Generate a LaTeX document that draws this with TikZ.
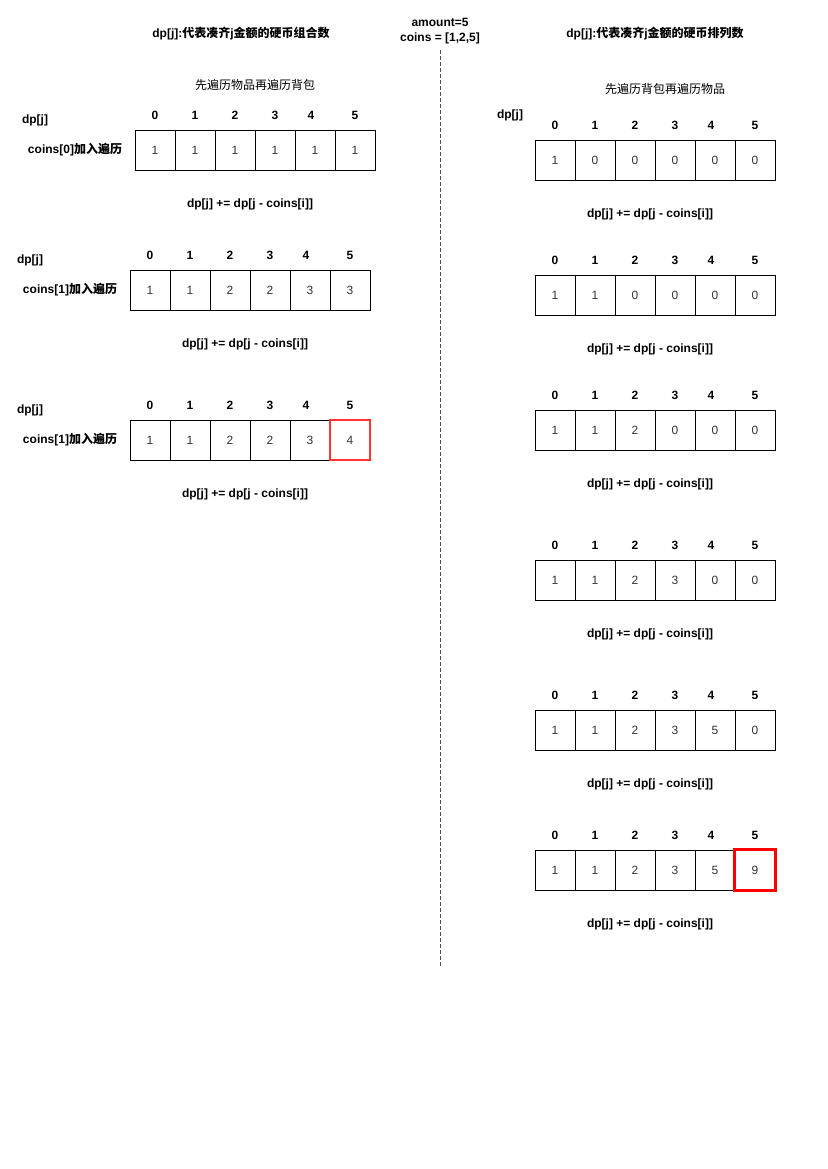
\documentclass[tikz,border=0pt]{standalone}
\usepackage{fontspec}
\setmainfont{Liberation Sans}
\newfontfamily\cjk{Noto Sans CJK SC}
\usetikzlibrary{positioning}
\tikzset{
	cell/.style={draw, minimum width=40pt, minimum height=40pt, inner sep=0pt, text=black!80, font=\fontsize{12}{14}\selectfont},
	idx/.style={inner sep=0pt, font=\fontsize{12}{14}\selectfont\bfseries},
	lbl/.style={inner sep=0pt, font=\fontsize{12}{14}\selectfont\bfseries},
	note/.style={inner sep=0pt, font=\fontsize{12}{14}\selectfont},
	divider/.style={draw=black!70, dash pattern=on 4pt off 2pt},
}

\begin{document}
\begin{tikzpicture}[x=1pt, y=-1pt]
	\useasboundingbox (0,0) rectangle (827,1169);

	\node[lbl] (titleA) at (241,34) {dp[j]:{\cjk 代表凑齐}j{\cjk 金额的硬币组合数}};
	\node[lbl] (titleB) at (655,34) {dp[j]:{\cjk 代表凑齐}j{\cjk 金额的硬币排列数}};
	\node[lbl] (amount) at (440,22) {amount=5};
	\node[lbl] (coins) at (440,38) {coins = [1,2,5]};
	\coordinate (divtop) at (440,50);
	\coordinate (divbot) at (440,967);
	\draw[divider] (divtop) -- (divbot);

	\node[note] (orderA) at (255,85) {\cjk 先遍历物品再遍历背包};
	\node[note] (orderB) at (665,89) {\cjk 先遍历背包再遍历物品};

	% left: items outside
	\node[lbl] (a1dp) at (35,120) {dp[j]};
	\node[lbl] (a1name) at (75,150) {coins[0]{\cjk 加入遍历}};
	\foreach \v [count=\i from 0] in {1,1,1,1,1,1}
		\node[cell] (a1c\i) at (155+40*\i,150) {\v};
	\node[lbl] (a1f) at (250,204) {dp[j] += dp[j - coins[i]]};

	\node[lbl] (a2dp) at (30,260) {dp[j]};
	\node[lbl] (a2name) at (70,290) {coins[1]{\cjk 加入遍历}};
	\foreach \v [count=\i from 0] in {1,1,2,2,3,3}
		\node[cell] (a2c\i) at (150+40*\i,290) {\v};
	\node[lbl] (a2f) at (245,344) {dp[j] += dp[j - coins[i]]};

	\node[lbl] (a3dp) at (30,410) {dp[j]};
	\node[lbl] (a3name) at (70,440) {coins[1]{\cjk 加入遍历}};
	\foreach \v [count=\i from 0] in {1,1,2,2,3,4}
		\node[cell] (a3c\i) at (150+40*\i,440) {\v};
	\draw[draw=red!80, line width=2pt] (a3c5.south west) rectangle (a3c5.north east);
	\node[lbl] (a3f) at (245,494) {dp[j] += dp[j - coins[i]]};

	% right: bag outside
	\node[lbl] (b1dp) at (510,115) {dp[j]};
	\foreach \v [count=\i from 0] in {1,0,0,0,0,0}
		\node[cell] (b1c\i) at (555+40*\i,160) {\v};
	\node[lbl] (b1f) at (650,214) {dp[j] += dp[j - coins[i]]};

	\foreach \v [count=\i from 0] in {1,1,0,0,0,0}
		\node[cell] (b2c\i) at (555+40*\i,295) {\v};
	\node[lbl] (b2f) at (650,349) {dp[j] += dp[j - coins[i]]};

	\foreach \v [count=\i from 0] in {1,1,2,0,0,0}
		\node[cell] (b3c\i) at (555+40*\i,430) {\v};
	\node[lbl] (b3f) at (650,484) {dp[j] += dp[j - coins[i]]};

	\foreach \v [count=\i from 0] in {1,1,2,3,0,0}
		\node[cell] (b4c\i) at (555+40*\i,580) {\v};
	\node[lbl] (b4f) at (650,634) {dp[j] += dp[j - coins[i]]};

	\foreach \v [count=\i from 0] in {1,1,2,3,5,0}
		\node[cell] (b5c\i) at (555+40*\i,730) {\v};
	\node[lbl] (b5f) at (650,784) {dp[j] += dp[j - coins[i]]};

	\foreach \v [count=\i from 0] in {1,1,2,3,5,9}
		\node[cell] (b6c\i) at (555+40*\i,870) {\v};
	\draw[draw=red, line width=3pt] (b6c5.south west) rectangle (b6c5.north east);
	\node[lbl] (b6f) at (650,924) {dp[j] += dp[j - coins[i]]};

	% column numbers over every row
	\foreach \t in {a1,a2,a3,b1,b2,b3,b4,b5,b6} {
		\foreach \n in {0,1,2,3,5}
			\node[idx, above=10pt of \t c\n] (\t i\n) {\n};
		\node[idx, above=10pt of \t c4, xshift=-4pt] (\t i4) {4};
	}
\end{tikzpicture}
\end{document}
